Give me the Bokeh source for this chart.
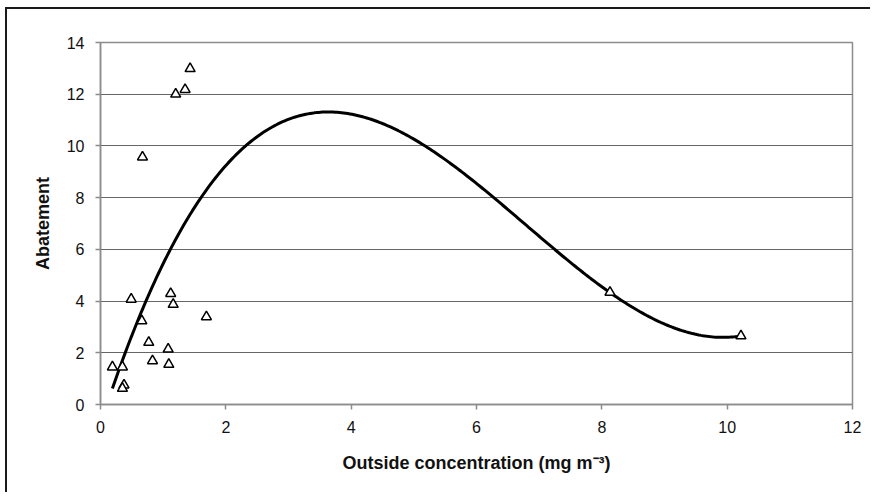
import numpy as np
from bokeh.plotting import figure
from bokeh.models import ColumnDataSource, FixedTicker
from bokeh.embed import file_html
from bokeh.resources import INLINE

# Observed points: outside concentration vs abatement
conc = [0.19, 0.35, 0.375, 0.35, 0.49, 0.66, 0.77, 0.83, 1.08, 1.09, 1.12, 1.16,
        1.69, 1.43, 1.20, 1.35, 0.67, 8.13, 10.22]
abatement = [1.45, 1.45, 0.75, 0.62, 4.07, 3.23, 2.40, 1.69, 2.14, 1.55, 4.29, 3.87,
             3.39, 12.99, 12.00, 12.18, 9.57, 4.34, 2.65]

x_ticks = [0, 2, 4, 6, 8, 10, 12]
y_ticks = [0, 2, 4, 6, 8, 10, 12, 14]

# Polynomial (order 3) trendline fitted to the data
coef = np.polyfit(conc, abatement, 3)
xs = np.linspace(min(conc), max(conc), 300)
ys = np.polyval(coef, xs)

FONT = "Liberation Sans"

p = figure(width=865, height=485, x_range=(0, 12), y_range=(0, 14),
           output_backend="svg", toolbar_location=None,
           min_border_left=93, min_border_top=33, min_border_right=20,
           min_border_bottom=90)
p.styles = {"margin-left": "5px", "margin-top": "7px",
            "border-left": "2px solid #1a1a1a", "border-top": "2px solid #1a1a1a"}

p.background_fill_color = "white"
p.border_fill_color = "white"
p.outline_line_color = "#8c8c8c"
p.outline_line_width = 1.5

p.xgrid.grid_line_color = None
p.ygrid.grid_line_color = "#666666"
p.ygrid.grid_line_width = 1

p.xaxis.ticker = FixedTicker(ticks=x_ticks)
p.yaxis.ticker = FixedTicker(ticks=y_ticks)
for ax in (p.xaxis, p.yaxis):
    ax.axis_line_color = "#8c8c8c"
    ax.axis_line_width = 1.5
    ax.major_tick_line_color = "#8c8c8c"
    ax.major_tick_line_width = 1.5
    ax.major_tick_out = 5
    ax.major_tick_in = 0
    ax.minor_tick_line_color = None
    ax.major_label_text_font = FONT
    ax.major_label_text_font_size = "16px"
    ax.major_label_text_color = "#111111"
    ax.axis_label_text_font = FONT
    ax.axis_label_text_font_size = "18px"
    ax.axis_label_text_font_style = "bold"
    ax.axis_label_text_color = "#111111"
    ax.major_label_standoff = 11

p.xaxis.axis_label = "Outside concentration (mg m\u207b\u00b3)"
p.yaxis.axis_label = "Abatement"
p.xaxis.axis_label_standoff = 17
p.yaxis.axis_label_standoff = 11

p.line(xs, ys, line_color="black", line_width=3)

src = ColumnDataSource(dict(x=conc, y=abatement))
p.scatter("x", "y", source=src, marker="triangle", size=10,
          fill_color="white", line_color="black", line_width=1.5)

open("out.html", "w").write(file_html(p, INLINE))
